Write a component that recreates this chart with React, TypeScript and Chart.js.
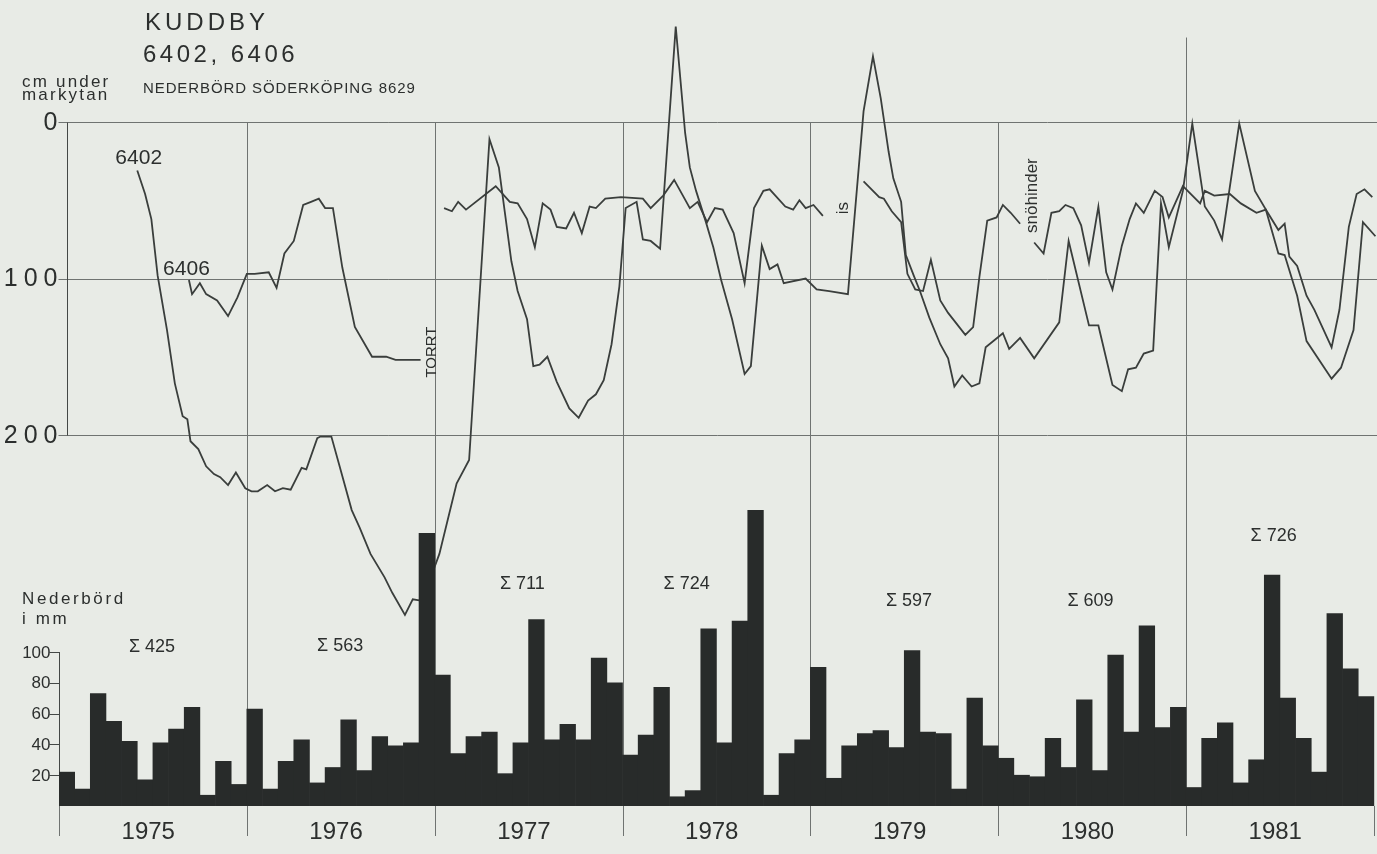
import React, { useEffect, useRef } from 'react';
import { Chart, registerables } from 'chart.js';

Chart.register(...registerables);

// ---------------- data ----------------
const years = ['1975', '1976', '1977', '1978', '1979', '1980', '1981'];
const yearSums = [425, 563, 711, 724, 597, 609, 726];

// monthly precipitation, mm (Söderköping 8629)
const p1975 = [22, 11, 73, 55, 42, 17, 41, 50, 64, 7, 29, 14];
const p1976 = [63, 11, 29, 43, 15, 25, 56, 23, 45, 39, 41, 177];
const p1977 = [85, 34, 45, 48, 21, 41, 121, 43, 53, 43, 96, 80];
const p1978 = [33, 46, 77, 6, 10, 115, 41, 120, 192, 7, 34, 43];
const p1979 = [90, 18, 39, 47, 49, 38, 101, 48, 47, 11, 70, 39];
const p1980 = [31, 20, 19, 44, 25, 69, 23, 98, 48, 117, 51, 64];
const p1981 = [12, 44, 54, 15, 30, 150, 70, 44, 22, 125, 89, 71];
const precipByYear = [p1975, p1976, p1977, p1978, p1979, p1980, p1981];

const depthTicks = [0, 100, 200];
const precipTicks = [20, 40, 60, 80, 100];

// groundwater level, cm under ground surface; time in months from 1 Jan 1975
const t6402 = [
  5.0, 5.5, 5.9, 6.3, 6.9, 7.4, 7.9, 8.2, 8.4, 8.9,
  9.4, 9.9, 10.3, 10.8, 11.3, 11.9, 12.3, 12.7, 13.3, 13.8,
  14.3, 14.8, 15.5, 15.8, 16.5, 16.7, 17.4, 17.9, 18.7, 19.2,
  19.9, 20.8, 21.3, 22.1, 22.6, 23.2, 24.3, 25.4, 26.2, 27.5,
  28.1, 28.5, 28.9, 29.3, 29.9, 30.3, 30.7, 31.2, 31.8, 32.6,
  33.2, 33.8, 34.3, 34.8, 35.3, 35.8, 36.2, 36.9, 37.3, 37.8,
  38.4, 39.4, 40.0, 40.3, 40.7, 41.3, 41.8, 42.3, 43.0, 43.8,
  44.2, 44.9, 45.4, 45.9, 46.3, 47.7, 48.4, 49.2, 50.4, 51.4,
  52.0, 52.5, 53.0, 53.3, 53.8, 54.1, 54.6, 55.0, 55.6, 56.3,
  56.8, 57.2, 57.7, 58.3, 58.8, 59.2, 60.3, 60.7, 61.4, 62.3,
  63.9, 64.5, 65.8, 66.4, 67.3, 67.9, 68.3, 68.8, 69.3, 69.9,
  70.4, 70.9, 71.8, 72.4, 73.2, 73.8, 74.3, 75.4, 76.4, 77.1,
  77.9, 78.3, 79.1, 79.7, 81.3, 81.9, 82.7, 83.3, 84.1,
];
const d6402 = [
  31, 46, 62, 98, 133, 167, 188, 190, 204, 209,
  220, 225, 227, 232, 224, 234, 236, 236, 232, 236,
  234, 235, 221, 222, 202, 201, 201, 219, 248, 259,
  276, 291, 301, 315, 305, 306, 276, 231, 216, 11,
  29, 59, 89, 108, 126, 156, 155, 150, 166, 183,
  189, 178, 174, 165, 142, 105, 55, 51, 75, 76,
  81, -61, 7, 29, 44, 63, 80, 101, 126, 161,
  156, 79, 94, 91, 103, 100, 107, 108, 110, -7,
  -42, -15, 19, 36, 51, 85, 98, 108, 125, 142,
  151, 169, 162, 169, 167, 144, 135, 145, 138, 151,
  128, 76, 130, 130, 168, 172, 158, 157, 148, 146,
  52, 80, 44, 1, 54, 63, 75, 1, 44, 56,
  84, 85, 111, 140, 164, 157, 133, 64, 73,
];

// null = no reading (TORRT, is, snöhinder)
const t6406 = [
  8.3, 8.5, 9.0, 9.4, 10.1, 10.8, 11.4, 12.0, 12.5, 13.4, 13.9, 14.4, 15.0, 15.6, 16.1, 16.6, 17.0, 17.5, 18.1, 18.9, 20.0, 20.9, 21.5, 23.1,
  23.8,
  24.6, 25.1, 25.5, 26.0, 27.9, 28.8, 29.3, 29.9, 30.4, 30.9, 31.4, 31.8, 32.4, 32.9, 33.4, 33.9, 34.3, 34.9, 35.9, 37.3,
  37.8, 38.6, 39.3, 40.3, 40.8, 41.4, 41.9, 42.4, 43.1, 43.8, 44.4, 45.0, 45.4, 46.4, 46.9, 47.3, 47.7, 48.2, 48.8,
  50.0,
  51.4, 52.4, 52.7, 53.2, 53.8, 54.2, 54.7, 55.2, 55.7, 56.3, 56.8, 57.9, 58.4, 58.8, 59.3, 59.9, 60.3, 60.8, 61.4,
  61.9,
  62.3, 62.9, 63.4, 63.9, 64.3, 64.8, 65.3, 65.8, 66.4, 66.9, 67.3, 67.9, 68.4, 68.8, 69.3, 70.0, 70.5, 70.9, 71.8,
  72.9, 73.2, 73.8, 74.8, 75.5, 76.5, 77.1, 77.9, 78.3, 78.6, 79.1, 79.7, 80.2, 81.3, 81.8, 82.4, 82.9, 83.4, 83.9,
];
const d6406 = [
  101, 110, 103, 110, 114, 124, 112, 97, 97, 96, 106, 84, 76, 53, 51, 49, 55, 55, 93, 131, 150, 150, 152, 152,
  null,
  55, 57, 51, 56, 41, 51, 52, 62, 80, 52, 56, 67, 68, 58, 71, 54, 55, 49, 48, 49,
  55, 47, 37, 55, 51, 64, 55, 56, 71, 103, 55, 44, 43, 54, 56, 50, 55, 53, 60,
  null,
  38, 48, 49, 57, 64, 97, 107, 108, 88, 114, 122, 136, 131, 99, 63, 61, 53, 58, 65,
  null,
  77, 84, 58, 57, 53, 55, 66, 90, 54, 96, 107, 79, 62, 52, 58, 44, 48, 61, 41,
  52, 44, 47, 46, 52, 58, 56, 69, 65, 86, 92, 111, 120, 144, 120, 67, 46, 43, 48,
];

// ---------------- layout / style (not data) ----------------
const W = 1377;
const H = 854;
const PAPER = '#e8ebe6';
const INK = '#2c2f2e';
const LINE = '#3a3e3c';
const GRID = '#6f7371';
const FONT = '"Liberation Sans", Arial, Helvetica, sans-serif';

// annotation anchors in data units: [month, value]
const sumLabelAt: [number, number][] = [
  [5.94, 103], [17.96, 104], [29.6, 144], [40.1, 144], [54.3, 133], [65.9, 133], [77.6, 175],
];
const seriesLabelAt = { s6402: [3.6, 27], s6406: [6.65, 98] };
const noteAt = { torrt: [23.8, 147], is: [50.1, 55], sno: [62.2, 47] };

function seg(ctx: CanvasRenderingContext2D, x1: number, y1: number, x2: number, y2: number) {
  ctx.beginPath();
  ctx.moveTo(x1, y1);
  ctx.lineTo(x2, y2);
  ctx.stroke();
}
const crisp = (v: number) => Math.round(v) + 0.5;

const decor = {
  id: 'decor',
  beforeDatasetsDraw(chart: any) {
    const { ctx, chartArea, scales } = chart;
    const x = scales.x;
    const yD = scales.yD;
    const yP = scales.yP;
    ctx.save();
    ctx.strokeStyle = GRID;
    ctx.lineWidth = 1;

    // depth grid + axis
    const ax = crisp(x.getPixelForValue(0.5));
    depthTicks.forEach((v) => {
      const py = crisp(yD.getPixelForValue(v));
      seg(ctx, ax - 9, py, chartArea.right, py);
    });
    ctx.strokeStyle = '#444846';
    seg(ctx, ax, crisp(yD.getPixelForValue(0)), ax, crisp(yD.getPixelForValue(200)));

    // year separators
    ctx.strokeStyle = GRID;
    const bottom = chartArea.bottom + 30;
    for (let k = 1; k < years.length; k++) {
      const px = crisp(x.getPixelForValue(12 * k));
      const top = k === 6 ? yD.getPixelForValue(-54) : yD.getPixelForValue(0);
      seg(ctx, px, top, px, bottom);
    }
    [0, 12 * years.length].forEach((m) => {
      const px = crisp(Math.min(x.getPixelForValue(m), chartArea.right - 1));
      seg(ctx, px, chartArea.bottom, px, bottom);
    });

    // precipitation axis
    ctx.strokeStyle = '#444846';
    const px0 = crisp(x.getPixelForValue(0));
    seg(ctx, px0, yP.getPixelForValue(100), px0, chartArea.bottom);
    precipTicks.forEach((v) => {
      const py = crisp(yP.getPixelForValue(v));
      seg(ctx, px0 - 10, py, px0, py);
    });

    // tick labels
    ctx.fillStyle = INK;
    ctx.textAlign = 'right';
    ctx.textBaseline = 'middle';
    ctx.font = `25px ${FONT}`;
    (ctx as any).letterSpacing = '6px';
    depthTicks.forEach((v) => {
      ctx.fillText(String(v), ax - 4, yD.getPixelForValue(v) + 1);
    });
    (ctx as any).letterSpacing = '0px';
    ctx.font = `17px ${FONT}`;
    precipTicks.forEach((v) => {
      ctx.fillText(String(v), px0 - 9, yP.getPixelForValue(v) + 1);
    });
    ctx.restore();
  },
  afterDatasetsDraw(chart: any) {
    const { ctx, chartArea, scales } = chart;
    const x = scales.x;
    const yD = scales.yD;
    const yP = scales.yP;
    ctx.save();
    ctx.fillStyle = INK;

    // year labels
    ctx.font = `24px ${FONT}`;
    ctx.textAlign = 'center';
    ctx.textBaseline = 'alphabetic';
    years.forEach((yr, k) => {
      ctx.fillText(yr, x.getPixelForValue(12 * k + 5.7), chartArea.bottom + 33);
    });

    // yearly sums
    ctx.font = `18px ${FONT}`;
    ctx.textBaseline = 'middle';
    yearSums.forEach((s, k) => {
      const [m, v] = sumLabelAt[k];
      ctx.fillText(`\u03A3 ${s}`, x.getPixelForValue(m), yP.getPixelForValue(v));
    });

    // series labels
    ctx.font = `21px ${FONT}`;
    ctx.textAlign = 'left';
    ctx.textBaseline = 'alphabetic';
    ctx.fillText('6402', x.getPixelForValue(seriesLabelAt.s6402[0]), yD.getPixelForValue(seriesLabelAt.s6402[1]));
    ctx.fillText('6406', x.getPixelForValue(seriesLabelAt.s6406[0]), yD.getPixelForValue(seriesLabelAt.s6406[1]));

    // rotated notes
    const rot = (txt: string, m: number, d: number, size: number) => {
      ctx.save();
      ctx.translate(x.getPixelForValue(m), yD.getPixelForValue(d));
      ctx.rotate(-Math.PI / 2);
      ctx.font = `${size}px ${FONT}`;
      ctx.textAlign = 'center';
      ctx.textBaseline = 'middle';
      ctx.fillText(txt, 0, 0);
      ctx.restore();
    };
    rot('TORRT', noteAt.torrt[0], noteAt.torrt[1], 15);
    rot('is', noteAt.is[0], noteAt.is[1], 17);
    rot('snöhinder', noteAt.sno[0], noteAt.sno[1], 17);
    ctx.restore();
  },
};

export default function App() {
  const ref = useRef<HTMLCanvasElement | null>(null);

  useEffect(() => {
    if (!ref.current) return;
    const precip = precipByYear.flat();
    const chart = new Chart(ref.current, {
      type: 'bar',
      data: {
        datasets: [
          {
            type: 'line',
            label: '6402',
            data: t6402.map((t, i) => ({ x: t, y: d6402[i] })),
            xAxisID: 'x',
            yAxisID: 'yD',
            borderColor: LINE,
            borderWidth: 1.8,
            pointRadius: 0,
            tension: 0,
            spanGaps: false,
            order: 1,
          } as any,
          {
            type: 'line',
            label: '6406',
            data: t6406.map((t, i) => ({ x: t, y: d6406[i] })),
            xAxisID: 'x',
            yAxisID: 'yD',
            borderColor: LINE,
            borderWidth: 1.8,
            pointRadius: 0,
            tension: 0,
            spanGaps: false,
            order: 1,
          } as any,
          {
            type: 'bar',
            label: 'Nederbörd',
            data: precip.map((v, i) => ({ x: i + 0.5, y: v })),
            xAxisID: 'x',
            yAxisID: 'yP',
            backgroundColor: '#282b2a',
            borderWidth: 0,
            barPercentage: 1,
            categoryPercentage: 1,
            order: 0,
          } as any,
        ],
      },
      options: {
        responsive: false,
        animation: false,
        devicePixelRatio: 1,
        layout: { padding: { left: 59, right: 0, top: 20, bottom: 48 } },
        plugins: { legend: { display: false }, tooltip: { enabled: false } },
        scales: {
          x: { type: 'linear', min: 0, max: 84.2, offset: false, display: false },
          yD: { type: 'linear', reverse: true, min: -65.2, max: 437.1, display: false },
          yP: { type: 'linear', min: 0, max: 510.4, display: false },
        },
      } as any,
      plugins: [decor],
    });
    return () => chart.destroy();
  }, []);

  const abs = (left: number, top: number, extra: React.CSSProperties = {}): React.CSSProperties => ({
    position: 'absolute',
    left,
    top,
    whiteSpace: 'nowrap',
    ...extra,
  });

  return (
    <div
      style={{
        position: 'fixed',
        left: 0,
        top: 0,
        width: W,
        height: H,
        background: PAPER,
        overflow: 'hidden',
        fontFamily: FONT,
        color: INK,
      }}
    >
      <canvas ref={ref} width={W} height={H} style={{ position: 'absolute', left: 0, top: 0, width: W, height: H }} />
      <div style={abs(145, 10, { fontSize: 24, lineHeight: '24px', letterSpacing: '4px' })}>KUDDBY</div>
      <div style={abs(143, 42, { fontSize: 24, lineHeight: '24px', letterSpacing: '3.5px' })}>6402, 6406</div>
      <div style={abs(22, 75, { fontSize: 17, lineHeight: '13px', letterSpacing: '2.2px' })}>
        cm under
        <br />
        markytan
      </div>
      <div style={abs(143, 80, { fontSize: 15, lineHeight: '15px', letterSpacing: '0.9px' })}>
        NEDERBÖRD SÖDERKÖPING 8629
      </div>
      <div style={abs(22, 589, { fontSize: 17, lineHeight: '20px', letterSpacing: '2.6px' })}>
        Nederbörd
        <br />i mm
      </div>
    </div>
  );
}
